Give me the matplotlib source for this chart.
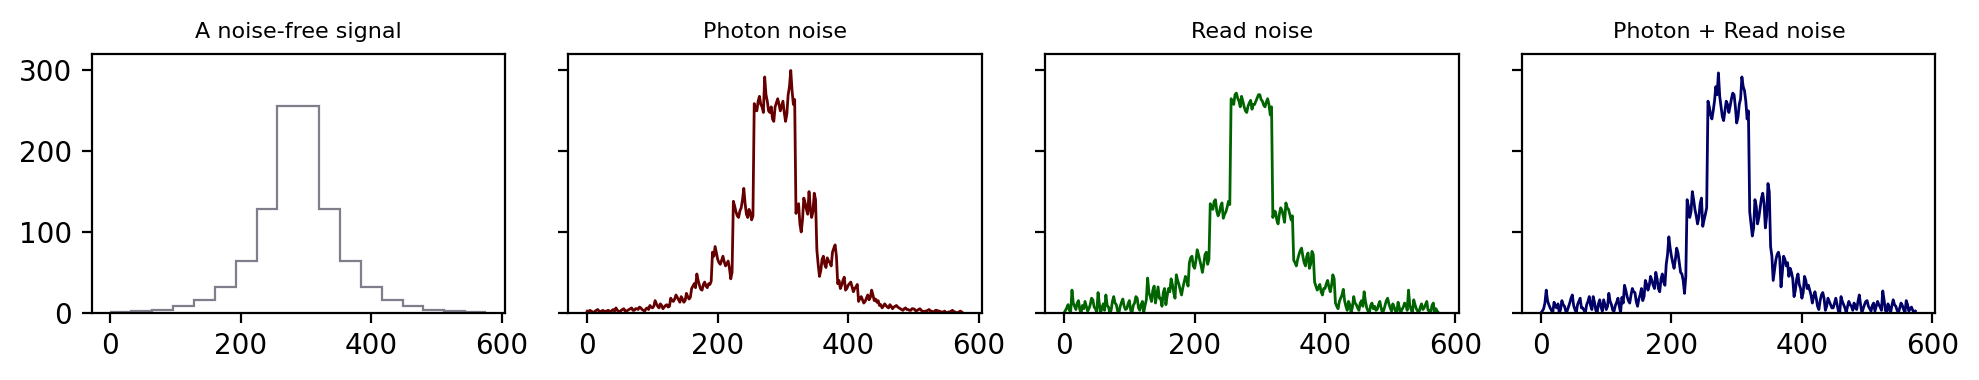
import matplotlib
matplotlib.use("Agg")
import matplotlib.pyplot as plt
import numpy as np

# noise-free step signal: 18 segments of 32 samples
seg_width = 32
levels = [1, 2, 4, 8, 16, 32, 64, 128, 256, 256, 128, 64, 32, 16, 8, 4, 2, 1]

# noisy traces, one value every 2 samples, 16 per segment
step = 2
photon = [
    2, 1, 3, 2, 1, 0, 2, 3, 4, 2, 1, 2, 3, 1, 2, 2,
    3, 2, 1, 3, 4, 2, 6, 3, 2, 1, 3, 4, 5, 2, 2, 3,
    4, 5, 6, 3, 3, 5, 5, 4, 7, 6, 4, 3, 2, 5, 6, 4,
    9, 7, 6, 8, 15, 11, 8, 6, 11, 9, 5, 7, 9, 10, 7, 8,
    18, 15, 14, 17, 22, 19, 16, 13, 20, 17, 13, 15, 24, 20, 17, 19,
    30, 33, 36, 31, 48, 40, 34, 29, 28, 35, 38, 33, 31, 36, 35, 39,
    75, 70, 82, 74, 66, 62, 60, 65, 70, 63, 58, 61, 64, 55, 42, 50,
    138, 132, 125, 120, 118, 126, 130, 140, 154, 135, 122, 118, 128, 124, 115, 120,
    259, 252, 250, 262, 268, 258, 255, 248, 292, 270, 262, 250, 248, 255, 240, 237,
    255, 260, 265, 258, 250, 256, 262, 248, 237, 246, 270, 280, 300, 275, 258, 264,
    123, 130, 135, 110, 100, 115, 142, 136, 128, 122, 150, 130, 118, 125, 148, 140,
    78, 60, 45, 52, 66, 70, 60, 56, 68, 64, 62, 58, 75, 80, 84, 70,
    36, 40, 30, 34, 40, 44, 28, 30, 34, 36, 38, 32, 26, 30, 32, 35,
    14, 18, 20, 16, 12, 14, 18, 22, 16, 19, 28, 22, 15, 17, 13, 15,
    9, 10, 6, 8, 11, 9, 7, 6, 10, 8, 5, 7, 8, 9, 7, 6,
    5, 4, 3, 5, 6, 4, 4, 3, 3, 5, 5, 4, 2, 3, 4, 5,
    3, 2, 1, 2, 2, 3, 4, 2, 2, 1, 1, 3, 3, 2, 2, 1,
    1, 1, 2, 0, 0, 1, 1, 2, 3, 1, 1, 0, 0, 1, 2, 1,
]
read = [
    0, 3, 6, 10, 3, 1, 28, 12, 8, 4, 12, 15, 4, 0, 9, 5,
    14, 8, 2, 5, 10, 18, 16, 7, 5, 0, 25, 11, 0, 6, 11, 3,
    22, 9, 7, 0, 3, 14, 20, 12, 10, 2, 0, 8, 13, 17, 8, 4,
    5, 11, 15, 3, 0, 9, 12, 20, 18, 6, 3, 10, 14, 0, 9, 16,
    43, 25, 20, 14, 28, 33, 12, 22, 32, 18, 18, 8, 25, 30, 10, 21,
    30, 26, 42, 35, 25, 18, 47, 40, 35, 28, 22, 31, 38, 45, 40, 33,
    62, 68, 70, 58, 55, 64, 78, 72, 65, 58, 50, 60, 72, 75, 60, 66,
    135, 130, 128, 138, 140, 126, 120, 124, 132, 136, 117, 122, 125, 131, 138, 134,
    265, 262, 258, 270, 272, 266, 262, 255, 268, 262, 255, 250, 248, 256, 260, 263,
    252, 258, 258, 262, 266, 270, 270, 264, 262, 257, 255, 261, 265, 258, 245, 255,
    118, 126, 125, 115, 110, 122, 130, 127, 120, 112, 136, 130, 128, 122, 115, 120,
    65, 62, 58, 66, 72, 77, 80, 70, 62, 58, 70, 74, 55, 60, 76, 72,
    38, 33, 28, 31, 35, 26, 22, 30, 30, 36, 40, 32, 26, 34, 47, 42,
    12, 8, 5, 14, 18, 22, 29, 15, 8, 3, 14, 10, 0, 7, 20, 12,
    10, 6, 3, 12, 15, 8, 26, 14, 6, 2, 0, 9, 12, 5, 8, 3,
    4, 10, 14, 6, 0, 3, 9, 15, 18, 11, 6, 2, 11, 7, 2, 0,
    13, 6, 0, 4, 7, 12, 10, 3, 28, 9, 4, 0, 16, 10, 5, 2,
    0, 7, 11, 4, 6, 10, 14, 3, 3, 0, 9, 12, 0, 5, 2, 0,
]
photon_read = [
    0, 2, 5, 12, 28, 15, 10, 6, 3, 0, 13, 8, 6, 11, 0, 4,
    15, 10, 8, 2, 2, 7, 12, 18, 22, 9, 4, 0, 10, 14, 18, 6,
    6, 3, 0, 10, 14, 20, 9, 4, 20, 13, 3, 0, 11, 16, 7, 2,
    16, 10, 4, 8, 24, 14, 10, 3, 2, 9, 13, 18, 8, 0, 19, 12,
    34, 28, 20, 15, 12, 22, 30, 26, 25, 14, 8, 17, 22, 30, 15, 20,
    40, 35, 28, 34, 45, 40, 34, 30, 50, 42, 30, 26, 42, 48, 38, 34,
    60, 72, 94, 80, 70, 62, 55, 66, 80, 74, 62, 50, 48, 40, 24, 45,
    140, 132, 118, 125, 150, 140, 128, 120, 110, 118, 135, 142, 107, 115, 122, 130,
    262, 255, 245, 240, 250, 262, 280, 270, 297, 268, 255, 243, 238, 250, 262, 258,
    248, 256, 265, 272, 270, 255, 235, 242, 258, 265, 292, 280, 275, 262, 240, 250,
    125, 110, 95, 105, 140, 132, 110, 118, 130, 142, 148, 135, 105, 120, 160, 150,
    82, 70, 40, 52, 65, 72, 75, 68, 32, 50, 70, 66, 58, 62, 45, 55,
    50, 42, 20, 28, 42, 48, 35, 30, 18, 25, 45, 40, 30, 34, 28, 22,
    12, 20, 26, 18, 8, 4, 15, 22, 25, 18, 3, 8, 18, 14, 10, 6,
    6, 12, 18, 10, 2, 0, 20, 14, 10, 6, 0, 8, 14, 10, 8, 3,
    12, 6, 4, 14, 22, 10, 0, 5, 10, 14, 15, 8, 5, 2, 9, 12,
    2, 8, 14, 10, 7, 3, 27, 16, 3, 0, 11, 6, 0, 9, 16, 10,
    8, 3, 0, 6, 12, 9, 4, 0, 15, 10, 2, 5, 7, 3, 0, 2,
]

titles = ["A noise-free signal", "Photon noise", "Read noise", "Photon + Read noise"]
colors = ["#7f7f8c", "#660000", "#006400", "#000066"]

edges = np.arange(len(levels) + 1) * seg_width
x = np.arange(len(photon)) * step

fig, axs = plt.subplots(1, 4, figsize=(9.895, 1.9), dpi=200, sharey=True)
fig.subplots_adjust(left=0.0463, right=0.978, bottom=0.177, top=0.857, wspace=0.154)

axs[0].stairs(levels, edges, baseline=None, color=colors[0], lw=0.8)
for ax, y, c in zip(axs[1:], [photon, read, photon_read], colors[1:]):
    ax.plot(x, y, color=c, lw=1)

for ax, t in zip(axs, titles):
    ax.set_title(t, fontsize=8)
    ax.set_xlim(-28.8, 604.8)
    ax.set_xticks([0, 200, 400, 600])
axs[0].set_ylim(0, 320)
axs[0].set_yticks([0, 100, 200, 300])

plt.savefig("out.png")
